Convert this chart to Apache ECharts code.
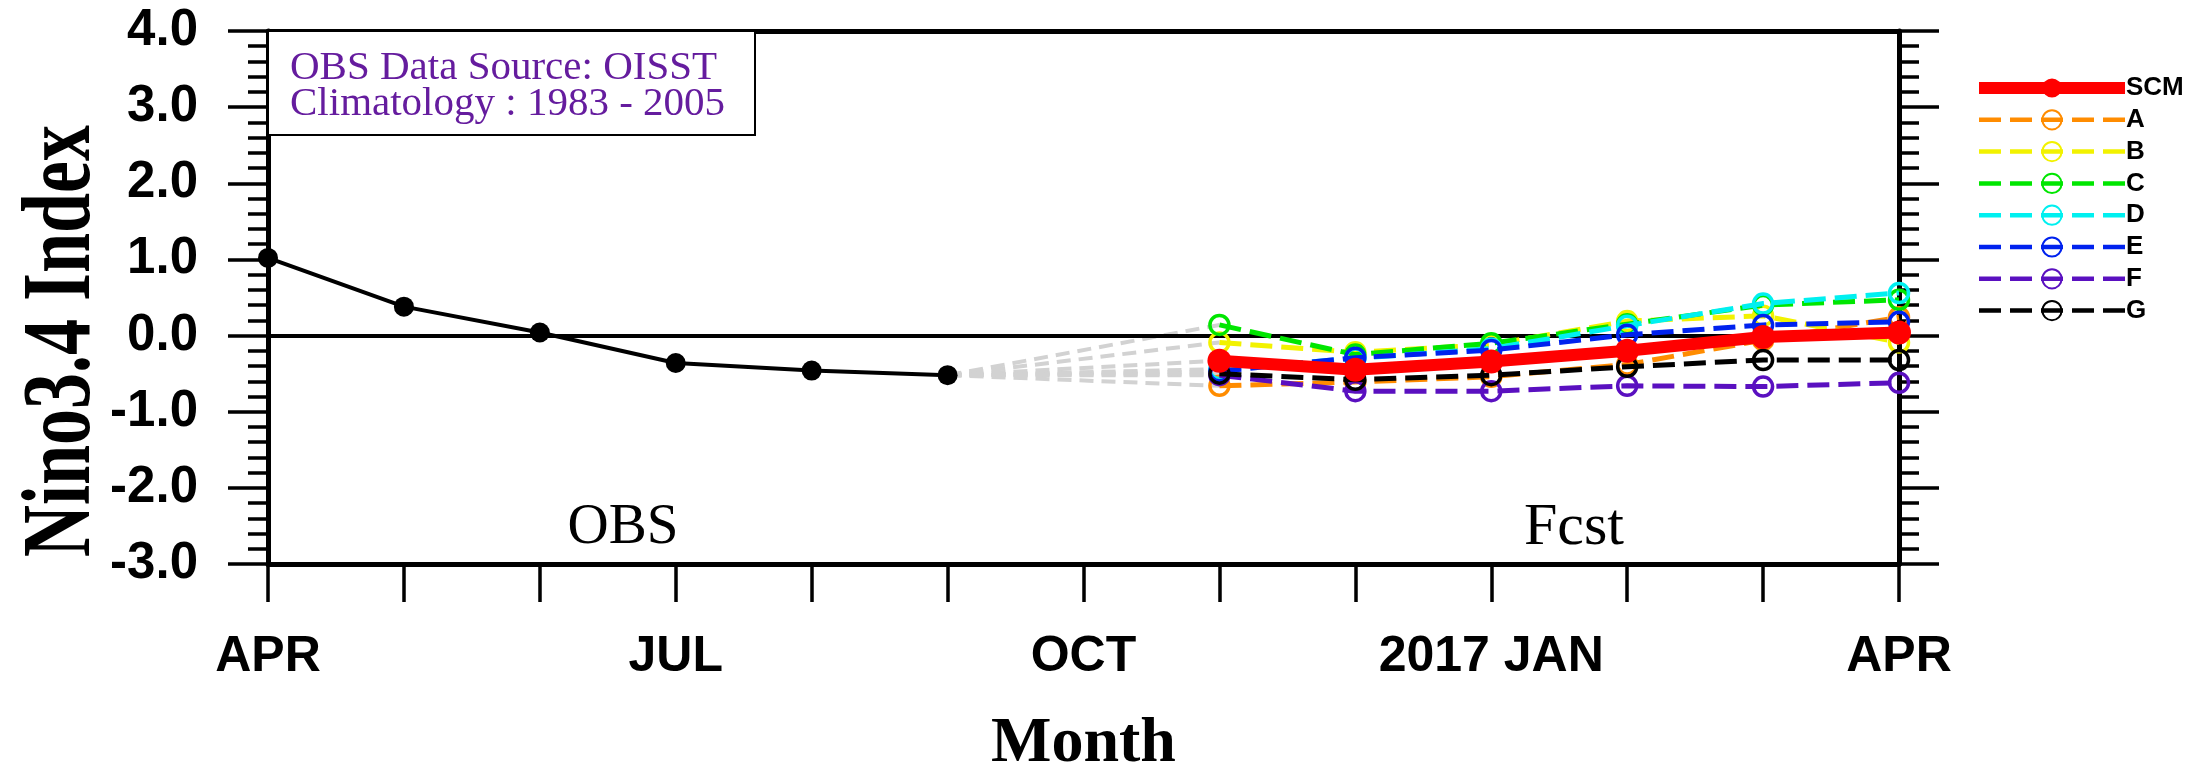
<!DOCTYPE html>
<html>
<head>
<meta charset="utf-8">
<script src="https://cdn.jsdelivr.net/npm/echarts@6/dist/echarts.min.js"></script>
<style>
  html, body { margin: 0; padding: 0; background: #fff; }
  #chart { width: 2190px; height: 781px; }
</style>
</head>
<body>
<div id="chart"></div>
<script>
// Month axis: April 2016 through April 2017
const months = ['APR', 'MAY', 'JUN', 'JUL', 'AUG', 'SEP', 'OCT', 'NOV', 'DEC', 'JAN', 'FEB', 'MAR', 'APR'];
const tickLabels = ['APR', '', '', 'JUL', '', '', 'OCT', '', '', '2017 JAN', '', '', 'APR'];
const yTicks = [-3, -2, -1, 0, 1, 2, 3, 4];

// Observed Nino3.4 index (APR..SEP 2016)
const obsValues = [1.02, 0.38, 0.04, -0.36, -0.46, -0.52];

// Forecasts start in NOV (month index 7) and run to APR 2017
const fcstStart = 7;
const memberNames = ['SCM', 'A', 'B', 'C', 'D', 'E', 'F', 'G'];
const memberColors = ['#ff0000', '#ff8c00', '#f2f200', '#00e600', '#00f0f0', '#0022ee', '#5a10c0', '#000000'];
const scmValues = [-0.33, -0.45, -0.34, -0.20, -0.02, 0.04];
const aValues = [-0.66, -0.61, -0.54, -0.38, -0.06, 0.24];
const bValues = [-0.09, -0.22, -0.12, 0.19, 0.26, -0.09];
const cValues = [0.14, -0.25, -0.10, 0.15, 0.40, 0.47];
const dValues = [-0.44, -0.30, -0.17, 0.13, 0.42, 0.56];
const eValues = [-0.47, -0.29, -0.19, 0.01, 0.14, 0.18];
const fValues = [-0.52, -0.73, -0.73, -0.66, -0.67, -0.62];
const gValues = [-0.50, -0.58, -0.52, -0.41, -0.32, -0.32];
const memberValues = [scmValues, aValues, bValues, cValues, dValues, eValues, fValues, gValues];

const chart = echarts.init(document.getElementById('chart'), null, { renderer: 'canvas' });

const SANS = 'Liberation Sans, Arial, sans-serif';
const SERIF = 'Liberation Serif, Times New Roman, serif';
const sansBold = { fontFamily: SANS, fontWeight: 'bold', color: '#000' };
const serifBold = { fontFamily: SERIF, fontWeight: 'bold', color: '#000' };

const lastObsIdx = obsValues.length - 1;
const dashPattern = [22, 9];

// Grey dashed links from the last observation to each first forecast month
const linkSeries = memberValues.map((vals, k) => ({
  name: 'link' + k,
  type: 'line',
  data: [[lastObsIdx, obsValues[lastObsIdx]], [fcstStart, vals[0]]],
  symbol: 'none',
  lineStyle: { color: '#d2d2d2', width: 4, type: [14, 8] },
  z: 2,
  silent: true
}));

const memberSeries = memberValues.map((vals, k) => {
  const isScm = k === 0;
  const c = memberColors[k];
  return {
    name: memberNames[k],
    type: 'line',
    data: vals.map((v, i) => [fcstStart + i, v]),
    symbol: 'circle',
    symbolSize: isScm ? 24 : 19,
    lineStyle: isScm
      ? { color: c, width: 12, type: 'solid' }
      : { color: c, width: 5, type: dashPattern },
    itemStyle: isScm
      ? { color: c, borderColor: c, borderWidth: 0 }
      : { color: 'rgba(255,255,255,0)', borderColor: c, borderWidth: 3.5 },
    z: isScm ? 10 : 5 + k * 0.1,
    emphasis: { disabled: true }
  };
});

const obsSeries = {
  name: 'OBS',
  type: 'line',
  data: obsValues.map((v, i) => [i, v]),
  symbol: 'circle',
  symbolSize: 20,
  lineStyle: { color: '#000', width: 4 },
  itemStyle: { color: '#000' },
  z: 4,
  markLine: {
    silent: true,
    symbol: 'none',
    label: { show: false },
    lineStyle: { color: '#000', width: 4, type: 'solid' },
    data: [{ yAxis: 0 }]
  }
};

const yAxisCommon = {
  type: 'value',
  min: yTicks[0],
  max: yTicks[yTicks.length - 1],
  interval: 1,
  axisLine: { show: true, onZero: false, lineStyle: { color: '#000', width: 5 } },
  axisTick: { show: true, inside: false, length: 40, lineStyle: { color: '#000', width: 3.5 } },
  minorTick: { show: true, splitNumber: 5, length: 20, lineStyle: { color: '#000', width: 3.5 } },
  splitLine: { show: false },
  minorSplitLine: { show: false }
};

const legendData = memberNames.map((n, k) => ({
  name: n,
  lineStyle: k === 0 ? { width: 12 } : { width: 4.5, type: dashPattern }
}));

const option = {
  animation: false,
  backgroundColor: '#ffffff',
  grid: { left: 268, right: 291, top: 31, bottom: 201, show: false },
  legend: {
    data: legendData,
    orient: 'vertical',
    left: 1968,
    top: 70,
    itemWidth: 146,
    itemHeight: 24,
    itemGap: 5.8,
    selectedMode: false,
    textStyle: Object.assign({ fontSize: 26, lineHeight: 22, padding: [0, 0, 0, -4] }, sansBold)
  },
  xAxis: [
    {
      type: 'value',
      min: 0, max: months.length - 1, interval: 1,
      position: 'bottom',
      axisLine: { show: true, onZero: false, lineStyle: { color: '#000', width: 5 } },
      axisTick: { show: true, inside: false, length: 38, lineStyle: { color: '#000', width: 3.5 } },
      axisLabel: Object.assign({ formatter: v => tickLabels[v] || '', margin: 68, fontSize: 50 }, sansBold),
      splitLine: { show: false },
      name: 'Month',
      nameLocation: 'middle',
      nameGap: 148,
      nameTextStyle: Object.assign({ fontSize: 64 }, serifBold)
    },
    {
      type: 'value',
      min: 0, max: months.length - 1, interval: 1,
      position: 'top',
      axisLine: { show: true, onZero: false, lineStyle: { color: '#000', width: 5 } },
      axisTick: { show: false },
      axisLabel: { show: false },
      splitLine: { show: false }
    }
  ],
  yAxis: [
    Object.assign({}, yAxisCommon, {
      position: 'left',
      axisLabel: Object.assign({ formatter: v => v.toFixed(1), margin: 70, fontSize: 51 }, sansBold)
    }),
    Object.assign({}, yAxisCommon, {
      position: 'right',
      axisLabel: { show: false }
    })
  ],
  graphic: [
    {
      // y-axis title, drawn rotated
      type: 'text',
      x: 64, y: 341,
      rotation: Math.PI / 2,
      scaleY: 1.35,
      style: { text: 'Nino3.4 Index', fontSize: 72, fontWeight: 'bold', fontFamily: SERIF, fill: '#000', align: 'center', verticalAlign: 'middle' },
      z: 51
    },
    {
      type: 'rect',
      shape: { x: 268, y: 31, width: 487, height: 104 },
      style: { fill: '#fff', stroke: '#000', lineWidth: 2 },
      z: 50
    },
    {
      type: 'text',
      left: 290, top: 48,
      style: {
        text: 'OBS Data Source: OISST\nClimatology : 1983 - 2005',
        fontSize: 41, lineHeight: 36, fill: '#651c9e', fontFamily: SERIF
      },
      z: 51
    },
    {
      type: 'text',
      x: 623, y: 528,
      style: { text: 'OBS', fontSize: 57, fill: '#000', fontFamily: SERIF, align: 'center', verticalAlign: 'middle' },
      z: 51
    },
    {
      type: 'text',
      x: 1574, y: 528,
      style: { text: 'Fcst', fontSize: 60, fill: '#000', fontFamily: SERIF, align: 'center', verticalAlign: 'middle' },
      z: 51
    }
  ],
  series: [obsSeries].concat(linkSeries, memberSeries)
};

chart.setOption(option);
</script>
</body>
</html>
